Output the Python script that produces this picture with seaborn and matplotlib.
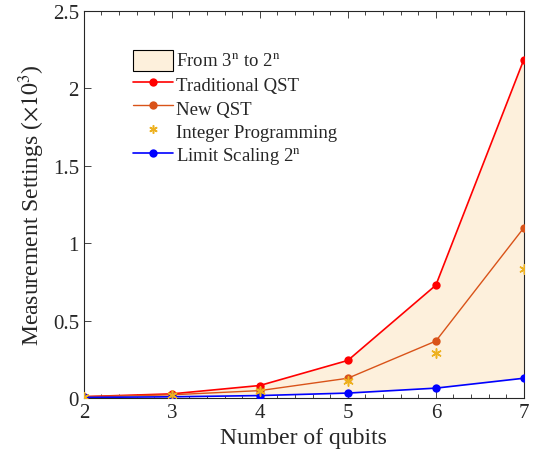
"""Measurement settings vs number of qubits: traditional QST, new QST, integer programming, 2^n limit."""
import numpy as np
import pandas as pd
import seaborn as sns
import matplotlib.pyplot as plt
from matplotlib.patches import Patch
from matplotlib.ticker import MultipleLocator, FormatStrFormatter

# Step 1: data (values in units of 10^3)
qubits = [2, 3, 4, 5, 6, 7]
traditional = [0.009, 0.027, 0.081, 0.243, 0.729, 2.187]
new_qst = [0.009, 0.021, 0.048, 0.128, 0.368, 1.100]
integer_prog = [0.009, 0.020, 0.046, 0.108, 0.292, 0.836]
limit_2n = [0.004, 0.008, 0.016, 0.032, 0.064, 0.128]

sns.set_style("ticks")
plt.rcParams["font.family"] = ["Liberation Serif", "DejaVu Serif"]
plt.rcParams["mathtext.fontset"] = "stix"

fig, ax = plt.subplots(figsize=(5.34, 4.64), dpi=100)
fig.subplots_adjust(left=0.157, right=0.981, bottom=0.14, top=0.974)

# Step 2: shaded region between 3^n and 2^n
ax.fill_between(qubits, traditional, limit_2n, color="#fdf0dc", linewidth=0, zorder=1)

# Step 3: the series
sns.lineplot(x=qubits, y=traditional, ax=ax, color="#ff0000", marker="o", markersize=6,
             markeredgewidth=0, linewidth=1.2, zorder=3)
sns.lineplot(x=qubits, y=new_qst, ax=ax, color="#d95319", marker="o", markersize=6,
             markeredgewidth=0, linewidth=1.0, zorder=3)
sns.scatterplot(x=qubits, y=integer_prog, ax=ax, color="#edb120", marker=(6, 2, 0),
                s=45, linewidth=1.1, zorder=4)
sns.lineplot(x=qubits, y=limit_2n, ax=ax, color="#0000ff", marker="o", markersize=6,
             markeredgewidth=0, linewidth=1.2, zorder=3)

# Step 4: axes styling
ax.set_xlim(2, 7)
ax.set_ylim(0, 2.5)
ax.xaxis.set_major_locator(MultipleLocator(1))
ax.xaxis.set_minor_locator(MultipleLocator(0.2))
ax.yaxis.set_major_locator(MultipleLocator(0.5))
ax.yaxis.set_major_formatter(FormatStrFormatter("%g"))
ax.tick_params(which="both", direction="in", top=True, right=True, labelsize=15,
               color="#262626", labelcolor="#262626", width=0.6)
ax.tick_params(which="major", length=5)
ax.tick_params(which="minor", length=3)
for sp in ax.spines.values():
    sp.set_color("#262626")
    sp.set_linewidth(0.8)
ax.set_xlabel("Number of qubits", fontsize=17, color="#262626")
ax.set_ylabel(r"Measurement Settings ($\times10^3$)", fontsize=17, color="#262626")

# Step 5: legend
handles = [
    Patch(facecolor="#fdf0dc", edgecolor="black", linewidth=0.8),
    plt.Line2D([], [], color="#ff0000", marker="o", markersize=6, markeredgewidth=0, linewidth=1.2),
    plt.Line2D([], [], color="#d95319", marker="o", markersize=6, markeredgewidth=0, linewidth=1.0),
    plt.Line2D([], [], color="#edb120", marker=(6, 2, 0), markersize=6, linestyle="none", markeredgewidth=1.1),
    plt.Line2D([], [], color="#0000ff", marker="o", markersize=6, markeredgewidth=0, linewidth=1.2),
]
labels = [r"From 3$^{\rm n}$ to 2$^{\rm n}$", "Traditional QST", "New QST",
          "Integer Programming", r"Limit Scaling 2$^{\rm n}$"]
ax.legend(handles, labels, loc="upper left", bbox_to_anchor=(0.095, 0.92), frameon=False,
          fontsize=13.5, handlelength=2.1, handleheight=1.35, labelspacing=0.14,
          handletextpad=0.2, borderaxespad=0)

plt.savefig("out.png", dpi=100)
